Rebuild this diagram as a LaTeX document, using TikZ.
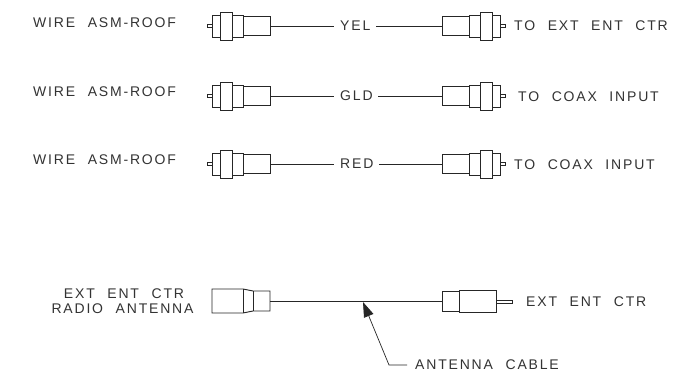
\documentclass[tikz,border=0pt]{standalone}
\usepackage{fontspec}
\setmainfont{Liberation Sans}
\newfontfamily\cadfont[LetterSpace=13,WordSpace=2.2]{Liberation Sans}
\usetikzlibrary{arrows.meta}
\tikzset{
  x=1pt,y=-1pt,
  ln/.style={draw=black!85,line width=0.9pt,fill=white},
  lbl/.style={font=\cadfont\fontsize{14}{16}\selectfont,text=black!80,inner sep=0pt,anchor=west},
  wire/.style={draw=black!85,line width=0.9pt},
  leader/.style={draw=black!85,line width=0.7pt},
}
\newcommand{\leftconn}[2]{%
  \begin{scope}[shift={(0,#2)}]
    \draw[ln] (207,-1.5) rectangle (212,1.5);
    \draw[ln] (212,-11) rectangle (243,11);
    \draw[ln] (243,-9.5) rectangle (270,9.5);
    \draw[ln] (220,-14) rectangle (232,14);
    \coordinate (#1) at (270,0);
  \end{scope}}
\newcommand{\rightconn}[2]{%
  \begin{scope}[shift={(0,#2)}]
    \draw[ln] (500,-1.5) rectangle (505,1.5);
    \draw[ln] (469,-11) rectangle (500,11);
    \draw[ln] (442,-9.5) rectangle (469,9.5);
    \draw[ln] (480,-14) rectangle (492,14);
    \coordinate (#1) at (442,0);
  \end{scope}}
\begin{document}
\begin{tikzpicture}
\useasboundingbox (0,0) rectangle (690,385);
\fill[white] (0,0) rectangle (690,385);
\leftconn{la}{26}\rightconn{ra}{26}
\leftconn{lb}{96}\rightconn{rb}{96}
\leftconn{lc}{164}\rightconn{rc}{164}
\node[lbl] (wa) at (33,23) {WIRE ASM-ROOF};
\node[lbl] (wb) at (33,92) {WIRE ASM-ROOF};
\node[lbl] (wc) at (33,160) {WIRE ASM-ROOF};
\node[lbl] (ya) at (340,26) {YEL};
\node[lbl] (yb) at (340,96) {GLD};
\node[lbl] (yc) at (340,164) {RED};
\draw[wire] (la) -- ([xshift=-6pt]ya.west) (ra) -- ([xshift=5pt]ya.east);
\draw[wire] (lb) -- ([xshift=-6pt]yb.west) (rb) -- ([xshift=5pt]yb.east);
\draw[wire] (lc) -- ([xshift=-6pt]yc.west) (rc) -- ([xshift=5pt]yc.east);
\node[lbl] (ta) at (514,26) {TO EXT ENT CTR};
\node[lbl] (tb) at (518,97) {TO COAX INPUT};
\node[lbl] (tc) at (514,165) {TO COAX INPUT};
% antenna cable
\draw[ln] (212,289) -- (243,289) -- (253,291) -- (270,291) -- (270,311) -- (253,311) -- (243,313) -- (212,313) -- cycle;
\draw[ln] (243,289) -- (243,313) (253,291) -- (253,311);
\coordinate (al) at (270,301.5);
\draw[ln] (442,291) rectangle (459,311);
\draw[ln] (459,290) rectangle (496,312);
\draw[ln] (496,300) rectangle (512,303);
\coordinate (ar) at (442,301.5);
\draw[wire] (al) -- (ar);
\node[lbl,anchor=center] (e1) at (124,294) {EXT ENT CTR};
\node[lbl,anchor=center] (e2) at (122.5,309) {RADIO ANTENNA};
\node[lbl] (e3) at (526,302) {EXT ENT CTR};
\node[lbl] (ac) at (415,365) {ANTENNA CABLE};
\coordinate (tip) at (363,302);
\coordinate (bend) at (389,365);
\draw[leader,-{Triangle[length=15pt,width=10pt]}] ([xshift=-8pt]ac.west) -- (bend) -- (tip);
\end{tikzpicture}
\end{document}
